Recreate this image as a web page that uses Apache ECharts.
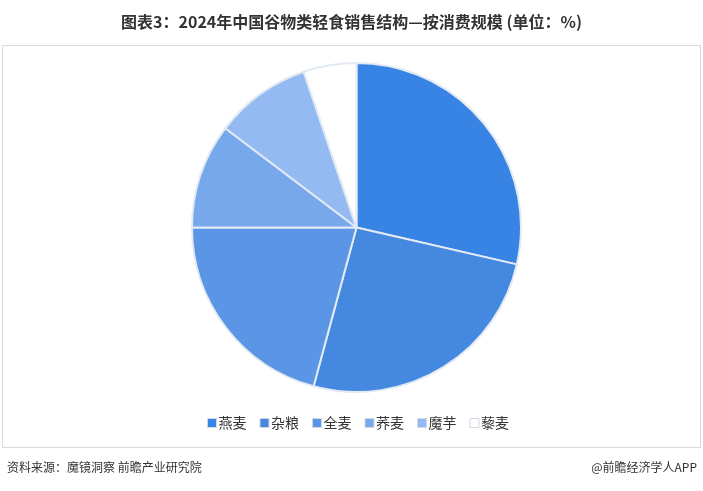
<!DOCTYPE html>
<html><head><meta charset="utf-8">
<script src="https://cdn.jsdelivr.net/npm/echarts@6/dist/echarts.min.js"></script>
<style>html,body{margin:0;padding:0;background:#fff}#c{width:703px;height:491px}</style>
</head><body><div id="c"></div>
<script>
const categories = ['燕麦','杂粮','全麦','荞麦','魔芋','藜麦'];
const values = [28.6, 25.6, 20.8, 10.3, 9.5, 5.2];
const colors = ['#3884e4','#4488e0','#5b96e6','#78a8ec','#93bbf2','#ffffff'];
const titleText = '图表3：2024年中国谷物类轻食销售结构—按消费规模 (单位：%)';
const sourceText = '资料来源：魔镜洞察 前瞻产业研究院';
const creditText = '@前瞻经济学人APP';

const chart = echarts.init(document.getElementById('c'), null, {renderer:'canvas'});
chart.setOption({
  animation:false,
  backgroundColor:'#fff',
  title:{text:titleText,left:'center',top:9,textStyle:{fontSize:16,fontWeight:'bold',color:'#333',fontFamily:'"Liberation Sans Narrow","Noto Sans CJK SC",sans-serif'}},
  graphic:[
    {type:'rect',shape:{x:2.5,y:45.5,width:698,height:402},style:{fill:'none',stroke:'#d9d9d9',lineWidth:1}},
    {type:'text',left:7,top:461,style:{text:sourceText,fontSize:12,fill:'#333',fontFamily:'"Noto Sans CJK SC",sans-serif'}},
    {type:'text',right:6,top:461,style:{text:creditText,fontSize:12,fill:'#333',fontFamily:'"Noto Sans CJK SC",sans-serif'}}
  ],
  legend:{bottom:56,left:202,itemWidth:9,itemHeight:9,itemGap:13,icon:'rect',
    textStyle:{fontSize:14,color:'#333',fontFamily:'"Noto Sans CJK SC",sans-serif',padding:[0,0,0,-3]},
    itemStyle:{borderColor:'#d0d8e4',borderWidth:1},
    data:categories},
  series:[{type:'pie',center:[356.5,227.5],radius:[0,164.5],startAngle:90,clockwise:true,
    label:{show:false},labelLine:{show:false},
    itemStyle:{borderColor:'#e3eaf3',borderWidth:2},
    data:categories.map((c,i)=>({name:c,value:values[i],itemStyle:{color:colors[i]}}))
  }]
});
</script></body></html>
